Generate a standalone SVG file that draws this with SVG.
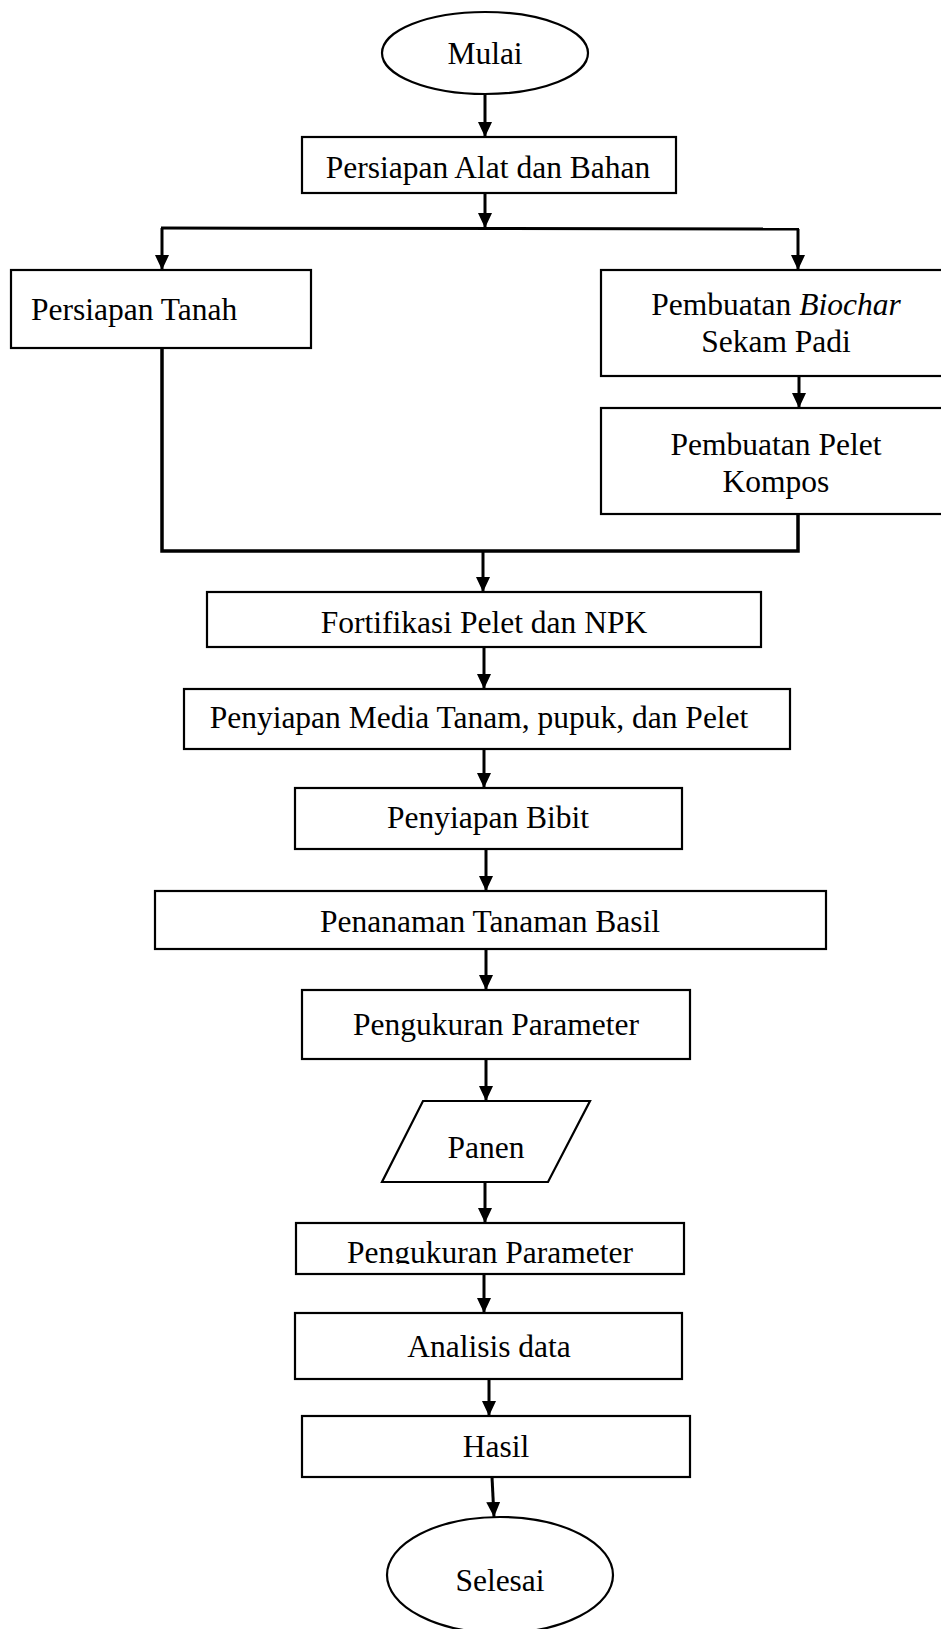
<svg xmlns="http://www.w3.org/2000/svg" width="941" height="1629" viewBox="0 0 941 1629">
<style>
.n{fill:#fff;stroke:#000;stroke-width:2.2}
.t{font-family:"Liberation Serif","Times New Roman",serif;font-size:31.5px;fill:#000;text-anchor:middle}
.c{fill:none;stroke:#000;stroke-width:3}
.a{marker-end:url(#ah)}
</style>
<defs>
<marker id="ah" viewBox="0 0 15 14" refX="15" refY="7" markerWidth="15" markerHeight="14" markerUnits="userSpaceOnUse" orient="auto">
<path d="M0,0 L15,7 L0,14 z" fill="#000"/>
</marker>
<clipPath id="clipP2"><rect x="296" y="1223" width="388" height="41"/></clipPath>
</defs>
<rect width="941" height="1629" fill="#fff"/>
<g id="connectors">
<path class="c a" d="M485,95 L485,137"/>
<path class="c a" d="M485,193 L485,228"/>
<path class="c" d="M161,228 L799,229"/>
<path class="c a" d="M162,228 L162,270"/>
<path class="c a" d="M798,229 L798,270"/>
<path class="c a" d="M799,376 L799,408"/>
<path class="c" style="stroke-width:3.5" d="M162,348 L162,551 L798,551 L798,513"/>
<path class="c a" d="M483,551 L483,592"/>
<path class="c a" d="M484,647 L484,689"/>
<path class="c a" d="M484,749 L484,788"/>
<path class="c a" d="M486,849 L486,891"/>
<path class="c a" d="M486,949 L486,990"/>
<path class="c a" d="M486,1059 L486,1101"/>
<path class="c a" d="M485,1181 L485,1223"/>
<path class="c a" d="M484,1274 L484,1313"/>
<path class="c a" d="M489,1379 L489,1416"/>
<path class="c a" d="M492,1477 L494,1517"/>
</g>
<g id="mulai"><ellipse class="n" cx="485" cy="53" rx="103" ry="41"/><text class="t" x="485" y="64">Mulai</text></g>
<g id="persiapan-alat"><rect class="n" x="302" y="137" width="374" height="56"/><text class="t" x="488" y="178">Persiapan Alat dan Bahan</text></g>
<g id="persiapan-tanah"><rect class="n" x="11" y="270" width="300" height="78"/><text class="t" x="31" y="320" style="text-anchor:start">Persiapan Tanah</text></g>
<g id="biochar"><rect class="n" x="601" y="270" width="345" height="106"/><text class="t" x="776" y="315">Pembuatan <tspan font-style="italic">Biochar</tspan></text><text class="t" x="776" y="352">Sekam Padi</text></g>
<g id="pelet"><rect class="n" x="601" y="408" width="345" height="106"/><text class="t" x="776" y="455">Pembuatan Pelet</text><text class="t" x="776" y="492">Kompos</text></g>
<g id="fortifikasi"><rect class="n" x="207" y="592" width="554" height="55"/><text class="t" x="484" y="633">Fortifikasi Pelet dan NPK</text></g>
<g id="media"><rect class="n" x="184" y="689" width="606" height="60"/><text class="t" x="479" y="728">Penyiapan Media Tanam, pupuk, dan Pelet</text></g>
<g id="bibit"><rect class="n" x="295" y="788" width="387" height="61"/><text class="t" x="488" y="828">Penyiapan Bibit</text></g>
<g id="penanaman"><rect class="n" x="155" y="891" width="671" height="58"/><text class="t" x="490" y="932">Penanaman Tanaman Basil</text></g>
<g id="pengukuran1"><rect class="n" x="302" y="990" width="388" height="69"/><text class="t" x="496" y="1035">Pengukuran Parameter</text></g>
<g id="panen"><polygon class="n" points="423,1101 590,1101 548,1182 382,1182"/><text class="t" x="486" y="1158">Panen</text></g>
<g id="pengukuran2"><rect class="n" x="296" y="1223" width="388" height="51"/><text class="t" x="490" y="1263" clip-path="url(#clipP2)">Pengukuran Parameter</text></g>
<g id="analisis"><rect class="n" x="295" y="1313" width="387" height="66"/><text class="t" x="489" y="1357">Analisis data</text></g>
<g id="hasil"><rect class="n" x="302" y="1416" width="388" height="61"/><text class="t" x="496" y="1457">Hasil</text></g>
<g id="selesai"><ellipse class="n" cx="500" cy="1575" rx="113" ry="58"/><text class="t" x="500" y="1591">Selesai</text></g>
</svg>
